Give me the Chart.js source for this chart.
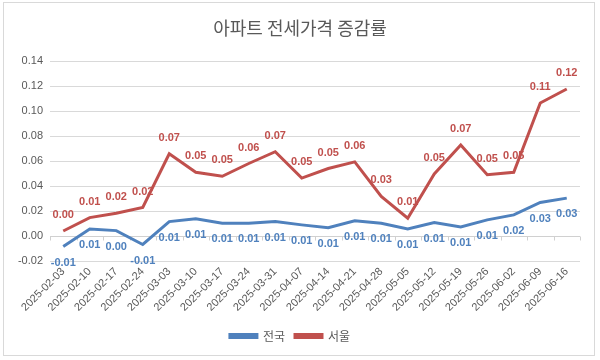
<!DOCTYPE html>
<html><head><meta charset="utf-8">
<script src="https://cdn.jsdelivr.net/npm/chart.js@4/dist/chart.umd.min.js"></script>
<style>html,body{margin:0;padding:0;background:#fff}#wrap{width:600px;height:360px;position:relative}</style>
</head><body><div id="wrap"><canvas id="c" width="600" height="360"></canvas></div>
<script>
const chartTitle = '아파트 전세가격 증감률';
const categories = ['2025-02-03','2025-02-10','2025-02-17','2025-02-24','2025-03-03','2025-03-10','2025-03-17','2025-03-24','2025-03-31','2025-04-07','2025-04-14','2025-04-21','2025-04-28','2025-05-05','2025-05-12','2025-05-19','2025-05-26','2025-06-02','2025-06-09','2025-06-16'];
const seriesNames = ['전국', '서울'];
const nationalValues = [-0.0084, 0.0056, 0.0043, -0.0068, 0.0115, 0.0137, 0.0102, 0.0102, 0.0115, 0.0089, 0.0067, 0.0121, 0.0102, 0.0056, 0.0107, 0.0072, 0.0129, 0.0169, 0.0268, 0.0303];
const seoulValues = [0.004, 0.0147, 0.0182, 0.0228, 0.0658, 0.051, 0.0478, 0.058, 0.0674, 0.0463, 0.054, 0.0593, 0.0317, 0.0142, 0.0497, 0.0728, 0.049, 0.051, 0.1064, 0.1176];
const yMin = -0.02, yMax = 0.14, yStep = 0.02;

const FONT = "'Liberation Sans', 'Noto Sans CJK KR', sans-serif";
const KFONT = "'Noto Sans CJK KR', 'Liberation Sans', sans-serif";
const GREY = '#595959';
const BLUE = '#4F81BD';
const RED = '#C0504D';

const framePlugin = {
  id: 'frame',
  beforeDraw(chart) {
    const ctx = chart.ctx;
    ctx.save();
    ctx.fillStyle = '#fff';
    ctx.fillRect(0, 0, chart.width, chart.height);
    ctx.strokeStyle = '#D9D9D9';
    ctx.lineWidth = 1;
    ctx.strokeRect(3.5, 2.5, 591, 353);
    ctx.fillStyle = GREY;
    ctx.font = "18px " + KFONT;
    ctx.textAlign = 'center';
    ctx.textBaseline = 'middle';
    ctx.fillText(chartTitle, 300, 28);
    ctx.restore();
  }
};

const zeroAxisPlugin = {
  id: 'zeroAxis',
  beforeDatasetsDraw(chart) {
    const ctx = chart.ctx, x = chart.scales.x, y = chart.scales.y;
    const y0 = Math.round(y.getPixelForValue(0)) + 0.5;
    ctx.save();
    ctx.strokeStyle = '#D0D0D0';
    ctx.lineWidth = 1;
    ctx.beginPath();
    ctx.moveTo(x.left, y0); ctx.lineTo(x.right, y0);
    const n = categories.length;
    const w = (x.right - x.left) / n;
    for (let k = 0; k <= n; k++) {
      const px = Math.round(x.left + k * w) + 0.5;
      ctx.moveTo(px, y0); ctx.lineTo(px, y0 + 4);
    }
    ctx.stroke();
    ctx.restore();
  }
};

const dataLabelPlugin = {
  id: 'dataLabels',
  afterDatasetsDraw(chart) {
    const ctx = chart.ctx;
    ctx.save();
    ctx.font = "bold 11px " + FONT;
    ctx.textAlign = 'center';
    ctx.textBaseline = 'middle';
    chart.data.datasets.forEach((ds, i) => {
      const meta = chart.getDatasetMeta(i);
      const off = ds.labelPos === 'above' ? -16 : 16;
      ctx.fillStyle = ds.borderColor;
      meta.data.forEach((pt, j) => {
        ctx.fillText(ds.data[j].toFixed(2), pt.x, pt.y + off);
      });
    });
    ctx.restore();
  }
};

new Chart(document.getElementById('c'), {
  type: 'line',
  data: {
    labels: categories,
    datasets: [
      { label: seriesNames[0], data: nationalValues, borderColor: BLUE, backgroundColor: BLUE, borderWidth: 3, pointRadius: 0, tension: 0, labelPos: 'below' },
      { label: seriesNames[1], data: seoulValues, borderColor: RED, backgroundColor: RED, borderWidth: 3, pointRadius: 0, tension: 0, labelPos: 'above' }
    ]
  },
  options: {
    responsive: false,
    devicePixelRatio: 1,
    animation: false,
    layout: { padding: { left: 0, right: 20, top: 61, bottom: 8 } },
    plugins: {
      title: { display: false },
      tooltip: { enabled: false },
      legend: {
        position: 'bottom',
        labels: { boxWidth: 27, boxHeight: 3, padding: 10, color: GREY, font: { family: KFONT, size: 12 } }
      }
    },
    scales: {
      x: {
        offset: true,
        grid: { display: false, drawTicks: false },
        border: { display: false },
        ticks: { autoSkip: false, maxRotation: 45, minRotation: 45, padding: 4, color: GREY, font: { family: FONT, size: 11 } },
        afterFit(s) { s.height = 59; }
      },
      y: {
        min: yMin, max: yMax,
        grid: { color: '#D9D9D9', drawTicks: false },
        border: { display: false },
        ticks: { stepSize: yStep, padding: 7, color: GREY, font: { family: FONT, size: 11 }, callback: v => v.toFixed(2) },
        afterFit(s) { s.width = 50; }
      }
    }
  },
  plugins: [framePlugin, zeroAxisPlugin, dataLabelPlugin]
});
</script>
</body></html>
